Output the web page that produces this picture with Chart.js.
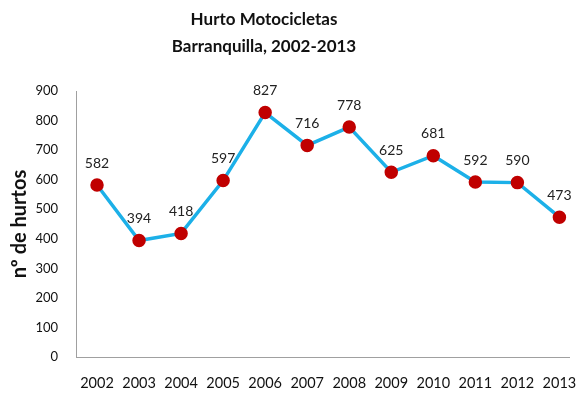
<!DOCTYPE html>
<html><head><meta charset="utf-8">
<script src="https://cdn.jsdelivr.net/npm/chart.js@4/dist/chart.umd.min.js"></script>
<style>html,body{margin:0;padding:0;background:#fff}#w{width:578px;height:400px}</style>
</head><body><div id="w"><canvas id="c" width="578" height="400"></canvas></div>
<script>
const years = [2002, 2003, 2004, 2005, 2006, 2007, 2008, 2009, 2010, 2011, 2012, 2013];
const hurtos = [582, 394, 418, 597, 827, 716, 778, 625, 681, 592, 590, 473];
const titleLines = ['Hurto Motocicletas', 'Barranquilla, 2002-2013'];
const yTitle = 'nº de hurtos';
const FONT = 'Lato, "Open Sans", sans-serif';

const titlePlugin = {
  id: 'ttl',
  afterDraw(chart) {
    const ctx = chart.ctx;
    ctx.save();
    ctx.fillStyle = '#111';
    ctx.font = 'bold 17px ' + FONT;
    ctx.textAlign = 'center';
    ctx.textBaseline = 'middle';
    ctx.fillText(titleLines[0], 264, 20);
    ctx.fillText(titleLines[1], 264, 47);
    ctx.restore();
  }
};
const labelPlugin = {
  id: 'lbl',
  afterDatasetsDraw(chart) {
    const ctx = chart.ctx;
    const meta = chart.getDatasetMeta(0);
    ctx.save();
    ctx.fillStyle = '#222';
    ctx.font = '14px ' + FONT;
    ctx.textAlign = 'center';
    ctx.textBaseline = 'middle';
    meta.data.forEach((p, i) => {
      ctx.fillText(String(hurtos[i]), p.x, p.y - 22);
    });
    ctx.restore();
  }
};

new Chart(document.getElementById('c'), {
  type: 'line',
  data: {
    datasets: [{
      data: years.map((y, i) => ({ x: y, y: hurtos[i] })),
      borderColor: '#1cb0e8',
      borderWidth: 3.5,
      tension: 0,
      pointBackgroundColor: '#c00000',
      pointBorderColor: '#c00000',
      pointRadius: 5,
      pointHoverRadius: 5
    }]
  },
  options: {
    responsive: false,
    animation: false,
    layout: { padding: { top: 91, left: 0, right: 0, bottom: 0 } },
    plugins: { legend: { display: false }, title: { display: false }, tooltip: { enabled: false } },
    scales: {
      x: {
        type: 'linear',
        min: 2001.5, max: 2013.24,
        grid: { display: false, drawTicks: false },
        border: { display: true, color: '#a0a0a0', width: 1 },
        afterBuildTicks(s) { s.ticks = years.map(v => ({ value: v })); },
        ticks: { color: '#111', font: { family: FONT, size: 14.5 }, padding: 18, maxRotation: 0, autoSkip: false, callback: v => String(v) },
        afterFit(s) { s.height = 43; s.paddingRight = 0; }
      },
      y: {
        min: 0, max: 900,
        grid: { display: false, drawTicks: false },
        border: { display: true, color: '#a0a0a0', width: 1 },
        ticks: { stepSize: 100, color: '#111', font: { family: FONT, size: 13 }, padding: 18 },
        title: { display: true, text: yTitle, color: '#111', font: { family: FONT, size: 20, weight: 'bold' }, padding: { top: 8, bottom: 0 } },
        afterFit(s) { s.width = 76; }
      }
    }
  },
  plugins: [titlePlugin, labelPlugin]
});
</script>
</body></html>
